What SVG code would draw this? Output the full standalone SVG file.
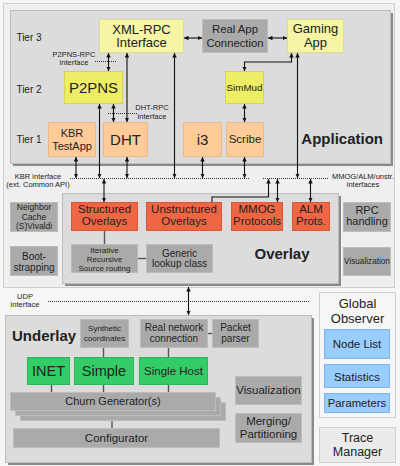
<svg xmlns="http://www.w3.org/2000/svg" width="400" height="466" viewBox="0 0 400 466">
<defs>
<marker id="ah" viewBox="0 0 8 8" refX="8" refY="4" markerWidth="4.5" markerHeight="4.5" markerUnits="userSpaceOnUse" orient="auto-start-reverse"><path d="M0,0 L8,4 L0,8 z" fill="#111"/></marker>
</defs>
<style>
text{font-family:"Liberation Sans",Arial,sans-serif;fill:#222;text-anchor:middle}
.panel{fill:#dcdcdc;stroke:#bdbdbd;stroke-width:1}
.shadow{fill:#8a8a8a}
.frame{fill:#efefef;stroke:#cfcfcf;stroke-width:1}
.pale{fill:#f5f5a3;stroke:#dcdc90;stroke-width:1}
.yel{fill:#eeee66;stroke:#d4d45a;stroke-width:1}
.org{fill:#ffcc99;stroke:#e8b888;stroke-width:1}
.red{fill:#ee6644;stroke:#d8583a;stroke-width:1}
.grn{fill:#33cc66;stroke:#2cb85a;stroke-width:1}
.blu{fill:#99ccff;stroke:#7fb4e6;stroke-width:1}
.gry{fill:#aaaaaa;stroke:#bcbcbc;stroke-width:1}
.arr{fill:none;stroke:#111;stroke-width:1.1;marker-start:url(#ah);marker-end:url(#ah)}
.arr1{fill:none;stroke:#111;stroke-width:1.1;marker-end:url(#ah)}
.ln{fill:none;stroke:#555;stroke-width:1.4}
.dot{fill:none;stroke:#333;stroke-width:1;stroke-dasharray:1,1}
.lbl{font-size:7.5px}
.b{font-weight:bold;font-size:15px}
</style>
<rect x="0" y="0" width="400" height="466" fill="#f6f6f6"/>
<rect class="frame" x="3.5" y="3.5" width="391" height="284"/>

<g id="application-panel">
<rect class="shadow" x="13" y="13" width="380" height="153"/>
<rect class="panel" x="10.5" y="10.5" width="380" height="153"/>
<text x="29" y="41" font-size="10">Tier 3</text>
<text x="29" y="92.5" font-size="10">Tier 2</text>
<text x="29" y="142.5" font-size="10">Tier 1</text>
<text x="383" y="143.5" class="b" style="text-anchor:end">Application</text>
</g>

<g id="overlay-panel">
<rect class="shadow" x="65" y="196" width="276" height="90"/>
<rect class="panel" x="62.5" y="193.5" width="276" height="90"/>
<text x="282" y="259" class="b">Overlay</text>
</g>

<g id="underlay-panel">
<rect class="shadow" x="8" y="318" width="306" height="147"/>
<rect class="panel" x="5.5" y="315.5" width="306" height="147"/>
<text x="12" y="340.5" class="b" style="text-anchor:start">Underlay</text>
</g>

<g id="xmlrpc"><rect class="pale" x="99.5" y="19.5" width="84" height="33"/><text x="141.5" y="33.5" font-size="13">XML-RPC</text><text x="141.5" y="47" font-size="13">Interface</text></g>
<g id="realapp"><rect class="gry" x="202.5" y="19.5" width="65" height="33"/><text x="235" y="33" font-size="11.3">Real App</text><text x="235" y="46.5" font-size="11.3">Connection</text></g>
<g id="gaming"><rect class="pale" x="287.5" y="19.5" width="56" height="33"/><text x="315.5" y="33" font-size="13">Gaming</text><text x="315.5" y="47" font-size="13">App</text></g>
<g id="p2pns"><rect class="yel" x="64.5" y="71.5" width="58" height="32"/><text x="93.5" y="92.5" font-size="15">P2PNS</text></g>
<g id="simmud"><rect class="yel" x="225.5" y="71.5" width="38" height="32"/><text x="244.5" y="90.5" font-size="9.8">SimMud</text></g>
<g id="kbrtestapp"><rect class="org" x="48.5" y="122.5" width="47" height="34"/><text x="72" y="137" font-size="11">KBR</text><text x="72" y="149.5" font-size="11">TestApp</text></g>
<g id="dht"><rect class="org" x="103.5" y="122.5" width="44" height="34"/><text x="125.5" y="144.5" font-size="15">DHT</text></g>
<g id="i3"><rect class="org" x="183.5" y="122.5" width="38" height="34"/><text x="202.5" y="144.5" font-size="15">i3</text></g>
<g id="scribe"><rect class="org" x="226.5" y="122.5" width="37" height="34"/><text x="245" y="143" font-size="11.5">Scribe</text></g>

<g id="structured"><rect class="red" x="71.5" y="202.5" width="66" height="28"/><text x="104.5" y="213" font-size="11.5">Structured</text><text x="104.5" y="225" font-size="11.5">Overlays</text></g>
<g id="unstructured"><rect class="red" x="146.5" y="202.5" width="75" height="28"/><text x="184" y="213" font-size="11.5">Unstructured</text><text x="184" y="225" font-size="11.5">Overlays</text></g>
<g id="mmog"><rect class="red" x="231.5" y="202.5" width="51" height="28"/><text x="257" y="213" font-size="11.5">MMOG</text><text x="257" y="225" font-size="11.5">Protocols</text></g>
<g id="alm"><rect class="red" x="292.5" y="202.5" width="37" height="28"/><text x="311" y="213" font-size="11.5">ALM</text><text x="311" y="225" font-size="11.5">Prots.</text></g>
<g id="iterative"><rect class="gry" x="71.5" y="244.5" width="66" height="28"/><text x="104.5" y="252.5" font-size="8">Iterative</text><text x="104.5" y="261.5" font-size="8">Recursive</text><text x="104.5" y="270.5" font-size="8">Source routing</text></g>
<g id="generic"><rect class="gry" x="146.5" y="244.5" width="66" height="28"/><text x="179.5" y="256.5" font-size="10">Generic</text><text x="179.5" y="267" font-size="10">lookup class</text></g>
<g id="neighbor"><rect class="gry" x="10.5" y="202.5" width="47" height="29"/><text x="34" y="210" font-size="8.5">Neighbor</text><text x="34" y="219.5" font-size="8.5">Cache</text><text x="34" y="229" font-size="8.5">(S)Vivaldi</text></g>
<g id="bootstrapping"><rect class="gry" x="10.5" y="246.5" width="47" height="29"/><text x="34" y="260" font-size="10">Boot-</text><text x="34" y="270.5" font-size="10">strapping</text></g>
<g id="rpchandling"><rect class="gry" x="343.5" y="202.5" width="47" height="29"/><text x="367" y="213.5" font-size="11">RPC</text><text x="367" y="225" font-size="11">handling</text></g>
<g id="visualization1"><rect class="gry" x="343.5" y="247.5" width="47" height="28"/><text x="367" y="264" font-size="8.2">Visualization</text></g>

<g id="synthetic"><rect class="gry" x="80.5" y="319.5" width="48" height="28"/><text x="104.5" y="330.5" font-size="8">Synthetic</text><text x="104.5" y="341" font-size="8">coordinates</text></g>
<g id="realnetwork"><rect class="gry" x="140.5" y="319.5" width="67" height="28"/><text x="174" y="330.5" font-size="10">Real network</text><text x="174" y="342" font-size="10">connection</text></g>
<g id="packetparser"><rect class="gry" x="212.5" y="319.5" width="46" height="28"/><text x="235.5" y="330.5" font-size="10">Packet</text><text x="235.5" y="342" font-size="10">parser</text></g>
<g id="inet"><rect class="grn" x="27.5" y="357.5" width="42" height="27"/><text x="48.5" y="376" font-size="14.5">INET</text></g>
<g id="simple"><rect class="grn" x="74.5" y="357.5" width="59" height="27"/><text x="104" y="376" font-size="14.5">Simple</text></g>
<g id="singlehost"><rect class="grn" x="139.5" y="357.5" width="68" height="27"/><text x="173.5" y="374.5" font-size="11.5">Single Host</text></g>
<g id="churn">
<rect class="gry" x="20.5" y="402.5" width="205" height="18"/>
<rect class="gry" x="15.5" y="397.5" width="205" height="18"/>
<rect class="gry" x="10.5" y="392.5" width="205" height="18"/>
<text x="113" y="405" font-size="11">Churn Generator(s)</text>
</g>
<g id="configurator"><rect class="gry" x="13.5" y="428.5" width="206" height="19"/><text x="116.5" y="441.5" font-size="11.5">Configurator</text></g>
<g id="visualization2"><rect class="gry" x="235.5" y="376.5" width="66" height="28"/><text x="268.5" y="394" font-size="11.5">Visualization</text></g>
<g id="merging"><rect class="gry" x="235.5" y="413.5" width="66" height="29"/><text x="268.5" y="425" font-size="11.5">Merging/</text><text x="268.5" y="438" font-size="11.5">Partitioning</text></g>

<g id="globalobserver">
<rect x="319.5" y="292.5" width="76" height="125" fill="#f7f7f7" stroke="#cfcfcf"/>
<text x="357.5" y="308" font-size="13">Global</text><text x="357.5" y="322.5" font-size="13">Observer</text>
<rect class="blu" x="324.5" y="329.5" width="65" height="29"/><text x="357" y="348" font-size="11.5">Node List</text>
<rect class="blu" x="324.5" y="364.5" width="65" height="23"/><text x="357" y="380.5" font-size="11.5">Statistics</text>
<rect class="blu" x="324.5" y="393.5" width="65" height="19"/><text x="357" y="406.5" font-size="11.3">Parameters</text>
</g>
<g id="tracemanager"><rect x="319.5" y="427.5" width="76" height="35" fill="#ebebeb" stroke="#cfcfcf"/><text x="357.5" y="441.5" font-size="12.5">Trace</text><text x="357.5" y="456" font-size="12.5">Manager</text></g>

<g id="interface-labels">
<text x="74" y="56.5" class="lbl">P2PNS-RPC</text><text x="74" y="65" class="lbl">interface</text>
<text x="152" y="110" class="lbl">DHT-RPC</text><text x="152" y="118.5" class="lbl">interface</text>
<text x="38" y="178.5" class="lbl">KBR interface</text><text x="38" y="186.5" class="lbl">(ext. Common API)</text>
<text x="363" y="178.5" class="lbl">MMOG/ALM/unstr.</text><text x="363" y="186.5" class="lbl">interfaces</text>
<text x="25" y="298.5" class="lbl">UDP</text><text x="25" y="307" class="lbl">interface</text>
</g>

<g id="connectors">
<path class="dot" d="M95,61.5 H117"/>
<path class="dot" d="M108,113.5 H137"/>
<path class="dot" d="M70,178.5 H250"/>
<path class="dot" d="M263,178.5 H328"/>
<path class="dot" d="M48,301.5 H310"/>

<path class="arr" d="M184,38 H202"/>
<path class="arr" d="M268,38 H287"/>
<path class="arr" d="M108.5,53 V71"/>
<path class="arr" d="M127,53 V122"/>
<path class="arr" d="M174.5,53 V178"/>
<path class="arr" d="M113.5,104 V122"/>
<path class="arr" d="M99.5,104 V178"/>
<path class="arr" d="M76,157 V178"/>
<path class="arr" d="M127,157 V178"/>
<path class="arr" d="M202.5,157 V178"/>
<path class="arr" d="M244.5,157 V178"/>
<path class="arr" d="M244.5,104 V122"/>
<path class="arr" d="M291.5,53 V62 H244.5 V71"/>
<path class="arr" d="M297.5,53 V178"/>
<path class="arr" d="M104,179 V202"/>
<path class="arr1" d="M212,202 V197 H268.5 V179"/>
<path class="arr" d="M277.5,179 V202"/>
<path class="arr" d="M310.5,179 V202"/>
<path class="arr" d="M188.5,287 V315"/>

<path class="ln" d="M104.5,231 V244"/>
<path class="ln" d="M138,258.5 H146"/>
<path class="ln" d="M103.5,348 V357"/>
<path class="ln" d="M168.5,348 V357"/>
<path class="ln" d="M208,333.5 H212"/>
<path class="ln" d="M51.5,385 V392"/>
<path class="ln" d="M103.5,385 V392"/>
<path class="ln" d="M168.5,385 V392"/>
<path class="ln" d="M112,421 V428"/>
</g>
</svg>
